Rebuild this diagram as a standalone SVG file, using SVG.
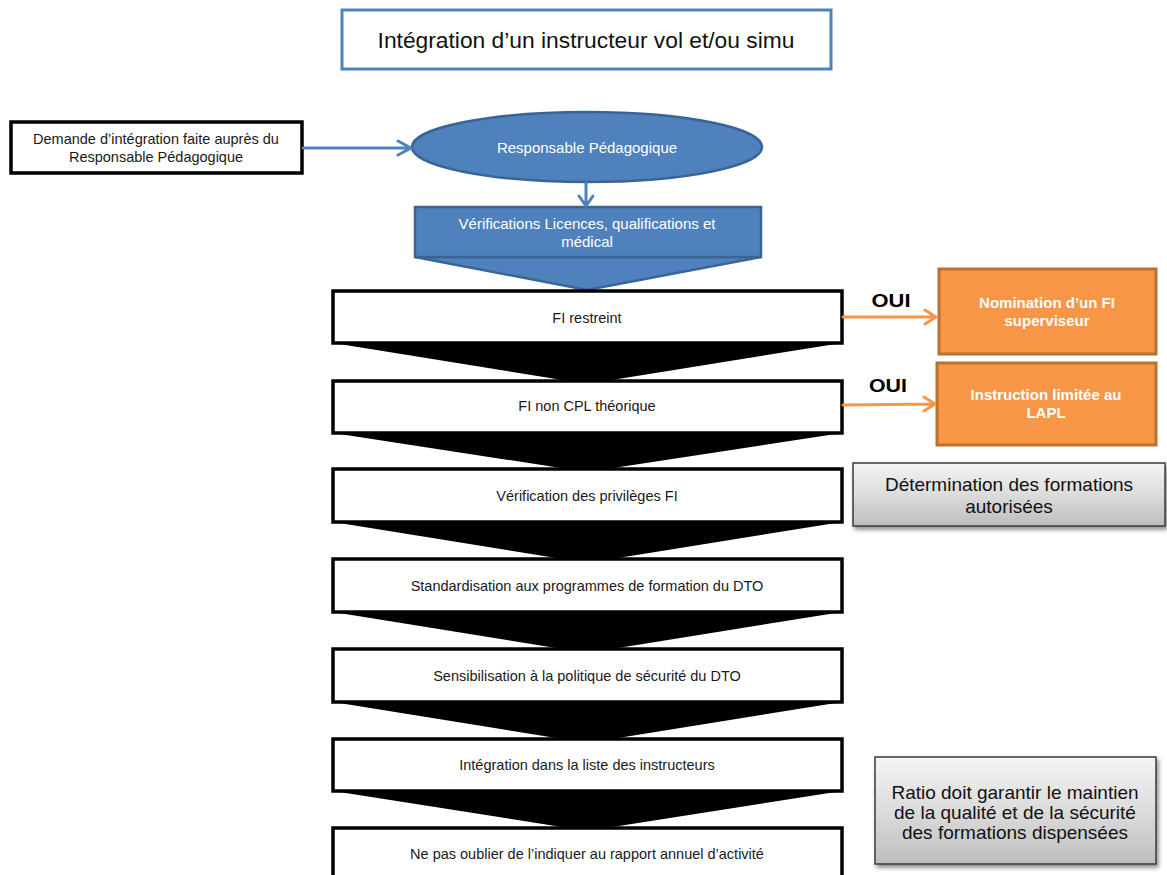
<svg xmlns="http://www.w3.org/2000/svg" width="1167" height="875" viewBox="0 0 1167 875">
<style>
  text { font-family: "Liberation Sans", Arial, sans-serif; text-anchor: middle; }
  .box { fill: #ffffff; stroke: #000000; stroke-width: 3.5; }
  .chev { fill: #000000; }
  .t { font-size: 14.5px; fill: #1a1a1a; }
  .tw { font-size: 15px; fill: #ffffff; }
  .blue { fill: #4f81bd; stroke: #3a6496; stroke-width: 2.5; }
  .orange { fill: #f79646; stroke: #b8712f; stroke-width: 3; }
  .to { font-size: 15px; font-weight: bold; fill: #ffffff; }
  .gray { fill: url(#grayGrad); stroke: #3a3a3a; stroke-width: 1.5; filter: url(#shadow); }
  .tg { font-size: 19px; fill: #111111; }
  .oui { font-size: 18px; font-weight: bold; fill: #000000; }
  .barrow { fill: none; stroke: #4f81bd; stroke-width: 3; stroke-linecap: round; stroke-linejoin: round; }
  .oarrow { fill: none; stroke: #f79646; stroke-width: 3; stroke-linecap: round; stroke-linejoin: round; }
</style>
<defs>
  <linearGradient id="grayGrad" x1="0" y1="0" x2="0" y2="1">
    <stop offset="0" stop-color="#f4f4f4"/>
    <stop offset="0.5" stop-color="#dcdcdc"/>
    <stop offset="1" stop-color="#bdbdbd"/>
  </linearGradient>
  <filter id="shadow" x="-10%" y="-10%" width="130%" height="140%">
    <feDropShadow dx="2" dy="3" stdDeviation="2" flood-color="#000000" flood-opacity="0.45"/>
  </filter>
</defs>

<g id="title">
  <rect x="342" y="10" width="489" height="59" fill="#ffffff" stroke="#4f81bd" stroke-width="3"/>
  <text x="586" y="48" style="font-size:22.8px" fill="#111111">Intégration d’un instructeur vol et/ou simu</text>
</g>

<g id="demande">
  <rect x="11" y="122" width="291" height="51" class="box"/>
  <text class="t" x="156" y="144">Demande d’intégration faite auprès du</text>
  <text class="t" x="156" y="162">Responsable Pédagogique</text>
</g>

<g id="responsable">
  <ellipse cx="587" cy="147" rx="175" ry="35" class="blue"/>
  <text class="tw" x="587" y="153">Responsable Pédagogique</text>
</g>

<g id="verifications">
  <polygon points="415,257 761,257 587,290" class="blue"/>
  <rect x="415" y="207" width="346" height="50" class="blue"/>
  <text class="tw" x="587" y="229">Vérifications Licences, qualifications et</text>
  <text class="tw" x="587" y="247">médical</text>
</g>

<g id="chevrons">
  <polygon class="chev" points="333,343 842,343 587,384"/>
  <polygon class="chev" points="333,433 842,433 587,472"/>
  <polygon class="chev" points="333,522 842,522 587,563"/>
  <polygon class="chev" points="333,612 842,612 587,653"/>
  <polygon class="chev" points="333,702 842,702 587,743"/>
  <polygon class="chev" points="333,791 842,791 587,831"/>
</g>

<g id="fi-restreint">
  <rect x="333" y="291" width="509" height="52" class="box"/>
  <text class="t" x="587" y="323">FI restreint</text>
</g>
<g id="fi-non-cpl">
  <rect x="333" y="381" width="509" height="52" class="box"/>
  <text class="t" x="587" y="411">FI non CPL théorique</text>
</g>
<g id="verification-privileges">
  <rect x="333" y="469" width="509" height="53" class="box"/>
  <text class="t" x="587" y="501">Vérification des privilèges FI</text>
</g>
<g id="standardisation">
  <rect x="333" y="559" width="509" height="53" class="box"/>
  <text class="t" x="587" y="591">Standardisation aux programmes de formation du DTO</text>
</g>
<g id="sensibilisation">
  <rect x="333" y="649" width="509" height="53" class="box"/>
  <text class="t" x="587" y="681">Sensibilisation à la politique de sécurité du DTO</text>
</g>
<g id="integration-liste">
  <rect x="333" y="739" width="509" height="52" class="box"/>
  <text class="t" x="587" y="770">Intégration dans la liste des instructeurs</text>
</g>
<g id="rapport-annuel">
  <rect x="333" y="828" width="509" height="60" class="box"/>
  <text class="t" x="587" y="859">Ne pas oublier de l’indiquer au rapport annuel d’activité</text>
</g>

<g id="nomination">
  <rect x="939" y="269" width="217" height="85" class="orange"/>
  <text class="to" x="1047" y="308">Nomination d’un FI</text>
  <text class="to" x="1047" y="326">superviseur</text>
</g>
<g id="instruction-lapl">
  <rect x="937" y="363" width="219" height="82" class="orange"/>
  <text class="to" x="1046" y="400">Instruction limitée au</text>
  <text class="to" x="1046" y="418">LAPL</text>
</g>

<g id="determination">
  <rect x="853" y="463" width="312" height="63" class="gray"/>
  <text class="tg" x="1009" y="491">Détermination des formations</text>
  <text class="tg" x="1009" y="513">autorisées</text>
</g>
<g id="ratio">
  <rect x="875" y="757" width="281" height="107" class="gray"/>
  <text class="tg" x="1015" y="799">Ratio doit garantir le maintien</text>
  <text class="tg" x="1015" y="819">de la qualité et de la sécurité</text>
  <text class="tg" x="1015" y="839">des formations dispensées</text>
</g>

<g id="connectors">
  <path class="barrow" d="M303,148 L410,148 M398,141 L411,148 L398,155"/>
  <path class="barrow" d="M586,183 L586,205 M579,196 L586,206 L593,196"/>
  <path class="oarrow" d="M843,317 L935,317 M925,310 L936,317 L925,324"/>
  <path class="oarrow" d="M843,405 L934,404 M924,397 L935,404 L924,411"/>
  <text class="oui" x="891" y="307" textLength="39" lengthAdjust="spacingAndGlyphs">OUI</text>
  <text class="oui" x="888" y="392" textLength="38" lengthAdjust="spacingAndGlyphs">OUI</text>
</g>
</svg>
